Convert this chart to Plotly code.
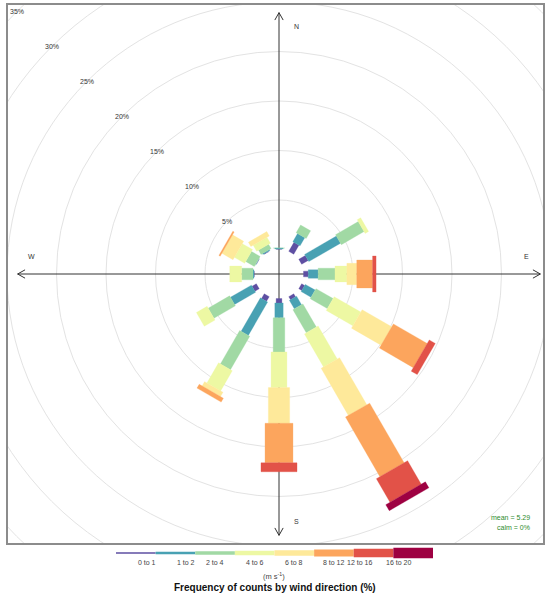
import math
import plotly.graph_objects as go

# ---------------- data ----------------
directions = [0, 30, 60, 90, 120, 150, 180, 210, 240, 270, 300, 330]
speed_labels = ["0 to 1", "1 to 2", "2 to 4", "4 to 6", "6 to 8", "8 to 12", "12 to 16", "16 to 20"]
# frequency (%) per speed bin, one value per direction (order as `directions`)
freq_0_1   = [0.05, 1.05, 0.76, 0.48, 0.35, 0.35, 0.45, 0.55, 0.50, 0.05, 0.02, 0.05]
freq_1_2   = [0.10, 0.95, 3.70, 1.00, 1.15, 1.00, 1.50, 3.90, 2.45, 0.10, 0.05, 0.10]
freq_2_4   = [0.05, 0.90, 2.65, 1.70, 2.00, 2.70, 3.45, 3.90, 2.50, 1.15, 1.00, 0.50]
freq_4_6   = [0.00, 0.00, 0.40, 1.20, 3.10, 3.85, 3.60, 2.35, 1.25, 1.20, 1.20, 0.70]
freq_6_8   = [0.00, 0.00, 0.00, 1.00, 3.45, 5.50, 3.60, 0.50, 0.00, 0.00, 1.30, 0.50]
freq_8_12  = [0.00, 0.00, 0.00, 1.60, 3.95, 6.95, 4.00, 0.45, 0.00, 0.00, 0.15, 0.00]
freq_12_16 = [0.00, 0.00, 0.00, 0.35, 0.70, 2.75, 0.90, 0.00, 0.00, 0.00, 0.00, 0.00]
freq_16_20 = [0.00, 0.00, 0.00, 0.00, 0.00, 0.70, 0.00, 0.00, 0.00, 0.00, 0.00, 0.00]
ring_ticks = [5, 10, 15, 20, 25, 30, 35]
compass_labels = ["N", "E", "S", "W"]
mean_speed = 5.29
calm_pct = 0

# ---------------- style ----------------
colors = ["#5E4FA2", "#48A1B3", "#A1D9A4", "#EDF8A3", "#FEE99A", "#FCA55D", "#E25248", "#9E0142"]
paddle_width = [0.58, 0.84, 1.17, 1.60, 2.15, 2.82, 3.64, 4.62]   # full width, data units
key_thickness = [1.7, 2.3, 3.3, 4.7, 5.7, 7.0, 8.7, 10.7]          # px
HOLE = 2.475            # inner offset (data units)
W, H = 545, 609
FONT = "Liberation Sans, Arial, sans-serif"

all_bins = [freq_0_1, freq_1_2, freq_2_4, freq_4_6, freq_6_8, freq_8_12, freq_12_16, freq_16_20]

fig = go.Figure()

cum = [0.0] * len(directions)
for j, vals in enumerate(all_bins):
    xs, ys = [], []
    hw = paddle_width[j] / 2
    for k, d in enumerate(directions):
        f = vals[k]
        r1 = HOLE + cum[k]
        r2 = HOLE + cum[k] + f
        cum[k] += f
        if f <= 0:
            continue
        t = math.radians(d)
        ux, uy = math.sin(t), math.cos(t)
        px, py = math.cos(t), -math.sin(t)
        pts = [(r1 * ux - hw * px, r1 * uy - hw * py),
               (r1 * ux + hw * px, r1 * uy + hw * py),
               (r2 * ux + hw * px, r2 * uy + hw * py),
               (r2 * ux - hw * px, r2 * uy - hw * py),
               (r1 * ux - hw * px, r1 * uy - hw * py)]
        for p in pts:
            xs.append(p[0]); ys.append(p[1])
        xs.append(None); ys.append(None)
    fig.add_trace(go.Scatter(x=xs, y=ys, mode="lines", fill="toself",
                             fillcolor=colors[j], line=dict(width=0.3, color=colors[j]),
                             name=speed_labels[j], hoverinfo="name", showlegend=False))

# ---------------- axes / frame ----------------
cx, cy = 279, 274
scale = 9.9
fl, fr, ft, fb = 8, 543, 5, 543
fig.update_xaxes(domain=[fl / W, fr / W], range=[(fl - cx) / scale, (fr - cx) / scale],
                 showgrid=False, zeroline=False, showticklabels=False, ticks="",
                 showline=True, mirror=True, linecolor="#8c8c8c", linewidth=1.5)
fig.update_yaxes(domain=[1 - fb / H, 1 - ft / H], range=[(cy - fb) / scale, (cy - ft) / scale],
                 showgrid=False, zeroline=False, showticklabels=False, ticks="",
                 showline=True, mirror=True, linecolor="#8c8c8c", linewidth=1.5)

shapes = []
for p in ring_ticks:
    R = HOLE + p
    shapes.append(dict(type="circle", xref="x", yref="y", x0=-R, x1=R, y0=-R, y1=R,
                       line=dict(color="#e3e3e3", width=1), layer="below"))

# compass axes with open arrowheads (drawn below the paddles)
AX = 26.4
AL, AW = 0.75, 0.42
axis_style = dict(color="#333333", width=1)
shapes.append(dict(type="line", xref="x", yref="y", x0=-AX, x1=AX, y0=0, y1=0,
                   line=axis_style, layer="below"))
shapes.append(dict(type="line", xref="x", yref="y", x0=0, x1=0, y0=-AX, y1=AX,
                   line=axis_style, layer="below"))
for sx, sy in [(1, 0), (-1, 0), (0, 1), (0, -1)]:
    tx, ty = sx * AX, sy * AX
    # perpendicular
    qx, qy = -sy, sx
    path = (f"M {tx - sx * AL + qx * AW},{ty - sy * AL + qy * AW} "
            f"L {tx},{ty} L {tx - sx * AL - qx * AW},{ty - sy * AL - qy * AW}")
    shapes.append(dict(type="path", xref="x", yref="y", path=path, line=axis_style, layer="below"))

annotations = []
for p in ring_ticks:
    R = HOLE + p
    annotations.append(dict(x=-R * math.sin(math.pi / 4), y=R * math.cos(math.pi / 4),
                            xref="x", yref="y", text=f"{p}%", showarrow=False,
                            font=dict(size=7, color="#333333", family=FONT)))

LR, OFF = 25.0, 1.75
compass_pos = {"N": (OFF, LR), "E": (LR, OFF), "S": (OFF, -LR), "W": (-LR, OFF)}
for lab in compass_labels:
    x, y = compass_pos[lab]
    annotations.append(dict(x=x, y=y, xref="x", yref="y", text=lab, showarrow=False,
                            font=dict(size=7, color="#333333", family=FONT)))

annotations.append(dict(x=532 / W, y=1 - 523 / H, xref="paper", yref="paper",
                        text=f"mean = {mean_speed}", showarrow=False, xanchor="right",
                        font=dict(size=7, color="#2e8b2e", family=FONT)))
annotations.append(dict(x=532 / W, y=1 - 533 / H, xref="paper", yref="paper",
                        text=f"calm = {calm_pct}%", showarrow=False, xanchor="right",
                        font=dict(size=7, color="#2e8b2e", family=FONT)))

# ---------------- key ----------------
kx0, kx1, ky = 116, 433, 553
seg = (kx1 - kx0) / len(speed_labels)
for i, lab in enumerate(speed_labels):
    shapes.append(dict(type="line", xref="paper", yref="paper",
                       x0=(kx0 + i * seg) / W, x1=(kx0 + (i + 1) * seg) / W,
                       y0=1 - ky / H, y1=1 - ky / H,
                       line=dict(color=colors[i], width=key_thickness[i])))
    annotations.append(dict(x=(kx0 + (i + 0.5) * seg) / W, y=1 - 568 / H, xref="paper", yref="paper",
                            text=lab, showarrow=False,
                            font=dict(size=7, color="#444444", family=FONT)))
annotations.append(dict(x=274 / W, y=1 - 583 / H, xref="paper", yref="paper",
                        text="(m s<sup>-1</sup>)", showarrow=False,
                        font=dict(size=7.5, color="#444444", family=FONT)))
annotations.append(dict(x=275 / W, y=1 - 595 / H, xref="paper", yref="paper",
                        text="<b>Frequency of counts by wind direction (%)</b>", showarrow=False,
                        font=dict(size=10, color="#111111", family=FONT)))

fig.update_layout(width=W, height=H, margin=dict(l=0, r=0, t=0, b=0),
                  paper_bgcolor="white", plot_bgcolor="white",
                  shapes=shapes, annotations=annotations, showlegend=False)

fig.write_html("out.html", config={"displayModeBar": False},
               post_script="document.body.style.margin='0';document.body.style.overflow='hidden';")
